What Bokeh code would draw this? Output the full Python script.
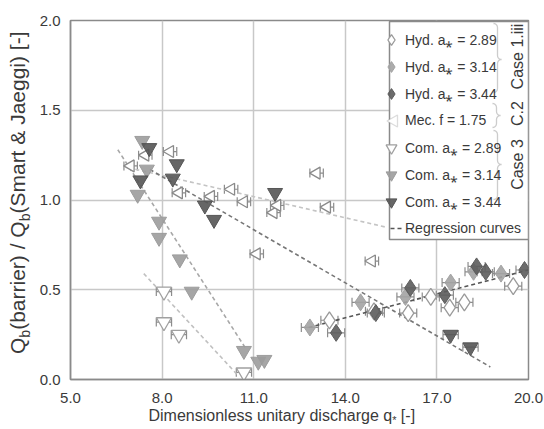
import numpy as np
from bokeh.plotting import figure
from bokeh.layouts import row, column
from bokeh.models import (Range1d, FixedTicker, PrintfTickFormatter, Legend, LegendItem, Div,
                          ColumnDataSource, Whisker, TeeHead, Label, PolyAnnotation, BoxAnnotation)
from bokeh.embed import file_html
from bokeh.resources import INLINE

# ---------------- data ----------------
hyd_289_x = [13.48, 14.94, 16.06, 16.80, 17.42, 17.90, 19.50]
hyd_289_y = [0.33, 0.38, 0.37, 0.46, 0.40, 0.43, 0.52]
hyd_314_x = [12.84, 14.50, 15.97, 17.45, 18.20, 19.10]
hyd_314_y = [0.29, 0.43, 0.46, 0.54, 0.60, 0.59]
hyd_344_x = [13.70, 15.00, 16.13, 17.26, 18.30, 18.60, 19.87]
hyd_344_y = [0.26, 0.37, 0.51, 0.47, 0.63, 0.60, 0.61]
mec_x = [6.97, 7.45, 8.26, 8.55, 9.60, 10.26, 10.68, 11.10, 11.65, 11.77, 13.06, 13.40, 14.87]
mec_y = [1.19, 1.25, 1.27, 1.04, 1.02, 1.06, 0.99, 0.70, 0.93, 0.97, 1.15, 0.96, 0.66]
com_289_x = [8.06, 8.06, 8.55, 10.68]
com_289_y = [0.49, 0.32, 0.25, 0.04]
com_314_x = [7.35, 7.50, 7.20, 7.90, 7.90, 8.58, 8.97, 10.68, 11.15, 11.35]
com_314_y = [1.33, 1.17, 1.03, 0.88, 0.79, 0.67, 0.49, 0.16, 0.10, 0.11]
com_344_x = [7.58, 7.29, 8.48, 8.35, 9.40, 9.70, 11.70, 17.45, 18.10]
com_344_y = [1.29, 1.11, 1.20, 1.12, 0.97, 0.89, 1.04, 0.25, 0.18]

# horizontal error half-widths
hyd_err = 0.28
mec_err = 0.22
com_err = 0.25

# regression curves (end points)
reg_hyd_x, reg_hyd_y = [12.8, 20.0], [0.29, 0.61]
reg_mec_x, reg_mec_y = [6.9, 15.3], [1.18, 0.85]
reg_c344_x, reg_c344_y = [7.6, 18.75], [1.17, 0.07]
reg_c314_x, reg_c314_y = [6.55, 10.75], [1.28, 0.17]
reg_c289_x, reg_c289_y = [7.4, 10.5], [0.59, 0.02]

x_ticks = [5, 8, 11, 14, 17, 20]
y_ticks = [0.0, 0.5, 1.0, 1.5, 2.0]

labels = ["Hyd. a\u204e = 2.89", "Hyd. a\u204e = 3.14", "Hyd. a\u204e = 3.44",
          "Mec. f = 1.75", "Com. a\u204e = 2.89", "Com. a\u204e = 3.14",
          "Com. a\u204e = 3.44", "Regression curves"]
group_labels = ["Case 1.iii", "C.2", "Case 3"]

FONT = "Liberation Sans"
TXT = "#3a3a3a"
YLAB_W = 36
XLAB_H = 24
W, H = 544, 429

# ---------------- main figure ----------------
p = figure(width=W - YLAB_W, height=H - XLAB_H, output_backend="svg", toolbar_location=None,
           x_range=Range1d(5, 20), y_range=Range1d(0, 2),
           min_border_left=67 - YLAB_W, min_border_right=16, min_border_top=20,
           min_border_bottom=H - XLAB_H - 380,
           background_fill_color="white", border_fill_color="white")
p.outline_line_color = "#8a8a8a"
p.outline_line_width = 1.5

p.xaxis.ticker = FixedTicker(ticks=x_ticks)
p.yaxis.ticker = FixedTicker(ticks=y_ticks)
p.xaxis.formatter = PrintfTickFormatter(format="%.1f")
p.yaxis.formatter = PrintfTickFormatter(format="%.1f")
for ax in (p.xaxis, p.yaxis):
    ax.axis_line_color = "#8a8a8a"
    ax.axis_line_width = 1.5
    ax.major_tick_line_color = None
    ax.minor_tick_line_color = None
    ax.major_label_text_font = FONT
    ax.major_label_text_font_size = "15px"
    ax.major_label_text_color = TXT
p.yaxis.major_label_standoff = 4
p.xaxis.major_label_standoff = 7
p.grid.grid_line_color = "#c8c8c8"
p.grid.grid_line_width = 1.5

# ---------------- regression lines ----------------
r_reg = p.line(reg_hyd_x, reg_hyd_y, line_color="#555555", line_width=1.6, line_dash="4 3")
p.line(reg_mec_x, reg_mec_y, line_color="#c4c4c4", line_width=1.6, line_dash="4 3")
p.line(reg_c344_x, reg_c344_y, line_color="#777777", line_width=1.6, line_dash="4 3")
p.line(reg_c314_x, reg_c314_y, line_color="#a8a8a8", line_width=1.6, line_dash="4 3")
p.line(reg_c289_x, reg_c289_y, line_color="#c0c0c0", line_width=1.6, line_dash="4 3")


def errbars(xs, ys, err, color="#8c8c8c"):
    xs = np.asarray(xs, float)
    src = ColumnDataSource(dict(base=ys, lo=xs - err, hi=xs + err))
    w = Whisker(source=src, base="base", lower="lo", upper="hi", dimension="width",
                line_color=color, line_width=1.2,
                upper_head=TeeHead(size=9, line_color=color, line_width=1.2),
                lower_head=TeeHead(size=9, line_color=color, line_width=1.2))
    p.add_layout(w)


errbars(hyd_289_x, hyd_289_y, hyd_err)
errbars(hyd_314_x, hyd_314_y, hyd_err)
errbars(hyd_344_x, hyd_344_y, hyd_err)
errbars(mec_x, mec_y, mec_err)
errbars(com_289_x, com_289_y, com_err)
errbars(com_344_x[-2:], com_344_y[-2:], com_err)

# ---------------- markers ----------------
r1 = p.scatter(hyd_289_x, hyd_289_y, marker="diamond", size=17, fill_color="white",
               line_color="#9a9a9a", line_width=1.3)
r2 = p.scatter(hyd_314_x, hyd_314_y, marker="diamond", size=17, fill_color="#a3a3a3",
               line_color="#a3a3a3", fill_alpha=0.9)
r3 = p.scatter(hyd_344_x, hyd_344_y, marker="diamond", size=17, fill_color="#5c5c5c",
               line_color="#5c5c5c", fill_alpha=0.9)
r4 = p.scatter(mec_x, mec_y, marker="triangle", angle=np.pi / 2, size=12, fill_color="white",
               line_color="#8a8a8a", line_width=1.3)
r5 = p.scatter(com_289_x, com_289_y, marker="inverted_triangle", size=15, fill_color="white",
               line_color="#a0a0a0", line_width=1.3)
r6 = p.scatter(com_314_x, com_314_y, marker="inverted_triangle", size=15, fill_color="#9c9c9c",
               line_color="#9c9c9c", fill_alpha=0.9)
r7 = p.scatter(com_344_x, com_344_y, marker="inverted_triangle", size=15, fill_color="#555555",
               line_color="#555555", fill_alpha=0.9)
# invisible stand-ins: their legend swatches are drawn below as annotations
r4_leg = p.scatter(mec_x[:1], mec_y[:1], marker="triangle", size=12, fill_alpha=0, line_alpha=0)
r_reg_leg = p.line(reg_hyd_x, reg_hyd_y, line_alpha=0)


# ---------------- legend panel (pixel layout helpers, frame-relative screen units) ----------------
def sx(px):
    return float(px - 67)


def sy(py):
    return float(380 - py)


SCR = dict(left_units="screen", right_units="screen", top_units="screen", bottom_units="screen")
p.add_layout(BoxAnnotation(left=sx(386), right=sx(525), top=sy(22), bottom=sy(240),
                           fill_color="white", fill_alpha=1.0, line_color="#8a8a8a",
                           line_width=1.5, line_alpha=1.0, **SCR))

# Mec. swatch (left-pointing triangle) and regression swatch (two dashes)
tri_x = [383.5, 394, 394]
tri_y = [121.5, 115.5, 127.5]
p.add_layout(PolyAnnotation(xs=[sx(v) for v in tri_x], ys=[sy(v) for v in tri_y],
                            xs_units="screen", ys_units="screen", fill_color="white",
                            fill_alpha=1, line_color="#8a8a8a", line_width=1.3))
for a, b in [(387, 391), (394, 398)]:
    p.add_layout(BoxAnnotation(left=sx(a), right=sx(b), top=sy(228.2), bottom=sy(229.8),
                               fill_color="#555555", fill_alpha=1, line_alpha=0, **SCR))

legend = Legend(items=[LegendItem(label=l, renderers=[r]) for l, r in
                       zip(labels, [r1, r2, r3, r4_leg, r5, r6, r7, r_reg_leg])],
                location=(sx(374), sy(242.5)), padding=0, spacing=0, margin=0,
                glyph_width=28, glyph_height=27, label_height=20, label_standoff=0,
                border_line_alpha=0, background_fill_alpha=0,
                label_text_font=FONT, label_text_font_size="14px", label_text_color=TXT)
p.add_layout(legend)


def brace(xl, top, bot, tip_y, w=8, r=4):
    xm = xl + w / 2
    xs, ys = [], []
    t = np.linspace(0, np.pi / 2, 6)
    xs += list(xl + (w / 2) * np.sin(t)); ys += list(top + r - r * np.cos(t))
    xs += [xm, xm]; ys += [top + r, tip_y - r]
    xs += list(xm + (w / 2) * (1 - np.cos(t))); ys += list(tip_y - r + r * np.sin(t))
    xs += list(xm + (w / 2) * (1 - np.cos(t[::-1]))); ys += list(tip_y + r - r * np.sin(t[::-1]))
    xs += [xm, xm]; ys += [tip_y + r, bot - r]
    xs += list(xl + (w / 2) * np.sin(t[::-1])); ys += list(bot - r + r * np.cos(t[::-1]))
    fx = [sx(v) for v in xs]
    fy = [sy(v) for v in ys]
    p.add_layout(PolyAnnotation(xs=fx + fx[::-1], ys=fy + fy[::-1], xs_units="screen",
                                ys_units="screen", fill_alpha=0,
                                line_color="#555555", line_width=1.3))


brace(490, 24, 93, 60)
brace(489, 104, 128, 116)
brace(490, 131, 200, 165)

for txt, yc in zip(group_labels, [57, 114, 165]):
    p.add_layout(Label(x=sx(514), y=sy(yc), x_units="screen", y_units="screen", text=txt,
                       angle=float(np.pi / 2), text_align="center", text_baseline="middle",
                       text_font=FONT, text_font_size="16px", text_color=TXT))

# ---------------- axis titles (with subscripts) ----------------
AW = {' ': .278, 'D': .722, 'i': .222, 'm': .833, 'e': .556, 'n': .556, 's': .5, 'o': .556,
      'l': .222, 'u': .556, 't': .278, 'a': .556, 'r': .333, 'y': .5, 'd': .556, 'c': .5,
      'h': .556, 'g': .556, 'q': .556, '*': .389}


def tw(s, size):
    return sum(AW.get(c, .556) for c in s) * size


# y title: rotated HTML text with real subscripts
ytitle = ("Q<sub style='font-size:14px'>b</sub>(barrier) / "
          "Q<sub style='font-size:14px'>b</sub>(Smart &amp; Jaeggi) [-]")
ylab = Div(text=f"<div style=\"position:absolute; left:7px; top:354px; white-space:nowrap; "
                f"transform:rotate(-90deg); transform-origin:0 0; font-family:'{FONT}'; "
                f"font-size:21px; line-height:22px; color:{TXT};\">{ytitle}</div>",
           width=YLAB_W, height=H - XLAB_H, margin=0,
           styles={"position": "relative", "overflow": "visible"})

# x title on a small canvas
xlab = figure(width=W, height=XLAB_H, x_range=Range1d(0, W), y_range=Range1d(0, XLAB_H),
              min_border=0, toolbar_location=None, output_backend="svg",
              x_axis_type=None, y_axis_type=None, outline_line_color=None,
              background_fill_color="white", border_fill_color="white")
xpieces = [("Dimensionless unitary discharge q", 16, False, 0.0),
           ("*", 11, True, 0.0), ("[-]", 16, False, 0.278 * 16)]
xcur = 148.0
for s, sz, sub, gap in xpieces:
    xcur += gap
    xlab.add_layout(Label(x=xcur, y=H - (419 if sub else 415), text=s, text_align="left",
                          text_baseline="alphabetic", text_font=FONT,
                          text_font_size=f"{sz}px", text_color=TXT))
    xcur += tw(s, sz)

layout = column(row(ylab, p, spacing=0), xlab, spacing=0)
open("out.html", "w").write(file_html(layout, INLINE))
